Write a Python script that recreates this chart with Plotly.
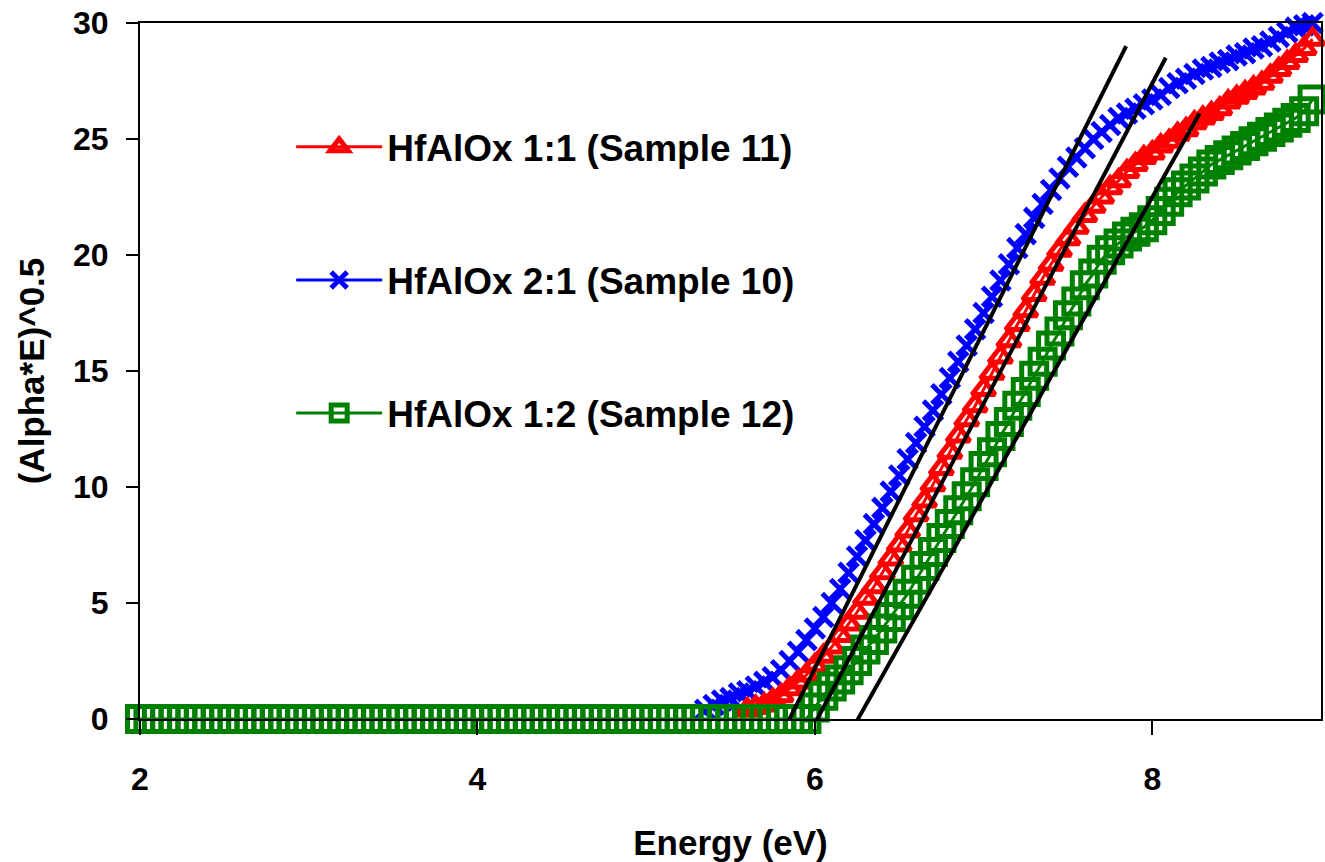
import plotly.graph_objects as go

# ---- data ----
# HfAlOx 1:1 (Sample 11) - red
red_x = [5.60, 5.65, 5.70, 5.75, 5.80, 5.85, 5.90, 5.95, 6.00, 6.05, 6.10, 6.15, 6.20,
         6.25, 6.30, 6.35, 6.40, 6.45, 6.50, 6.55, 6.60, 6.65, 6.70, 6.75, 6.80, 6.85,
         6.90, 6.95, 7.00, 7.05, 7.10, 7.15, 7.20, 7.25, 7.30, 7.35, 7.40, 7.45, 7.50,
         7.55, 7.60, 7.65, 7.70, 7.75, 7.80, 7.85, 7.90, 7.95, 8.00, 8.05, 8.10, 8.15,
         8.20, 8.25, 8.30, 8.35, 8.40, 8.45, 8.50, 8.55, 8.60, 8.65, 8.70, 8.75, 8.80,
         8.85, 8.90, 8.95]
red_y = [0.4, 0.5, 0.6, 0.8, 1.0, 1.3, 1.6, 1.9, 2.3, 2.7, 3.1, 3.6, 4.1,
         4.6, 5.2, 5.7, 6.3, 6.9, 7.5, 8.1, 8.8, 9.4, 10.1, 10.8, 11.5, 12.2,
         12.9, 13.5, 14.2, 14.9, 15.6, 16.3, 17.0, 17.6, 18.3, 19.0, 19.6, 20.2, 20.7,
         21.2, 21.7, 22.1, 22.5, 22.9, 23.2, 23.6, 23.9, 24.2, 24.4, 24.7, 24.9, 25.2,
         25.4, 25.7, 25.9, 26.1, 26.3, 26.6, 26.8, 27.0, 27.2, 27.4, 27.7, 28.0, 28.3,
         28.6, 28.9, 29.3]

# HfAlOx 2:1 (Sample 10) - blue
blue_x = [5.35, 5.40, 5.45, 5.50, 5.55, 5.60, 5.65, 5.70, 5.75, 5.80, 5.85, 5.90, 5.95,
          6.00, 6.05, 6.10, 6.15, 6.20, 6.25, 6.30, 6.35, 6.40, 6.45, 6.50, 6.55, 6.60,
          6.65, 6.70, 6.75, 6.80, 6.85, 6.90, 6.95, 7.00, 7.05, 7.10, 7.15, 7.20, 7.25,
          7.30, 7.35, 7.40, 7.45, 7.50, 7.55, 7.60, 7.65, 7.70, 7.75, 7.80, 7.85, 7.90,
          7.95, 8.00, 8.05, 8.10, 8.15, 8.20, 8.25, 8.30, 8.35, 8.40, 8.45, 8.50, 8.55,
          8.60, 8.65, 8.70, 8.75, 8.80, 8.85, 8.90, 8.95]
blue_y = [0.4, 0.6, 0.8, 0.9, 1.1, 1.2, 1.4, 1.6, 1.8, 2.1, 2.5, 2.9, 3.4,
          3.9, 4.4, 5.0, 5.6, 6.3, 7.0, 7.7, 8.4, 9.1, 9.8, 10.5, 11.2, 11.9,
          12.6, 13.3, 14.0, 14.7, 15.4, 16.1, 16.8, 17.5, 18.2, 18.9, 19.6, 20.3, 20.9,
          21.6, 22.2, 22.8, 23.3, 23.8, 24.2, 24.6, 25.0, 25.3, 25.6, 25.9, 26.1, 26.3,
          26.5, 26.7, 26.9, 27.2, 27.4, 27.6, 27.8, 28.0, 28.1, 28.3, 28.4, 28.6, 28.7,
          28.9, 29.0, 29.2, 29.4, 29.6, 29.8, 29.9, 30.0]

# HfAlOx 1:2 (Sample 12) - green
green_x = [2.00, 2.05, 2.10, 2.15, 2.20, 2.25, 2.30, 2.35, 2.40, 2.45, 2.50, 2.55, 2.60,
           2.65, 2.70, 2.75, 2.80, 2.85, 2.90, 2.95, 3.00, 3.05, 3.10, 3.15, 3.20, 3.25,
           3.30, 3.35, 3.40, 3.45, 3.50, 3.55, 3.60, 3.65, 3.70, 3.75, 3.80, 3.85, 3.90,
           3.95, 4.00, 4.05, 4.10, 4.15, 4.20, 4.25, 4.30, 4.35, 4.40, 4.45, 4.50, 4.55,
           4.60, 4.65, 4.70, 4.75, 4.80, 4.85, 4.90, 4.95, 5.00, 5.05, 5.10, 5.15, 5.20,
           5.25, 5.30, 5.35, 5.40, 5.45, 5.50, 5.55, 5.60, 5.65, 5.70, 5.75, 5.80, 5.85,
           5.90, 5.95, 6.00, 6.05, 6.10, 6.15, 6.20, 6.25, 6.30, 6.35, 6.40, 6.45, 6.50,
           6.55, 6.60, 6.65, 6.70, 6.75, 6.80, 6.85, 6.90, 6.95, 7.00, 7.05, 7.10, 7.15,
           7.20, 7.25, 7.30, 7.35, 7.40, 7.45, 7.50, 7.55, 7.60, 7.65, 7.70, 7.75, 7.80,
           7.85, 7.90, 7.95, 8.00, 8.05, 8.10, 8.15, 8.20, 8.25, 8.30, 8.35, 8.40, 8.45,
           8.50, 8.55, 8.60, 8.65, 8.70, 8.75, 8.80, 8.85, 8.90, 8.95]
green_y = [0, 0, 0, 0, 0, 0, 0, 0, 0, 0, 0, 0, 0,
           0, 0, 0, 0, 0, 0, 0, 0, 0, 0, 0, 0, 0,
           0, 0, 0, 0, 0, 0, 0, 0, 0, 0, 0, 0, 0,
           0, 0, 0, 0, 0, 0, 0, 0, 0, 0, 0, 0, 0,
           0, 0, 0, 0, 0, 0, 0, 0, 0, 0, 0, 0, 0,
           0, 0, 0, 0, 0, 0, 0, 0, 0, 0, 0, 0, 0,
           0, 0, 0.5, 1.0, 1.4, 1.7, 2.1, 2.5, 3.0, 3.4, 3.9, 4.4, 4.9,
           5.4, 6.0, 6.6, 7.2, 7.8, 8.4, 9.0, 9.6, 10.2, 10.9, 11.5, 12.2, 12.8,
           13.5, 14.1, 14.8, 15.4, 16.1, 16.7, 17.4, 18.0, 18.7, 19.2, 19.8, 20.2, 20.5,
           20.8, 21.0, 21.2, 21.5, 21.9, 22.3, 22.7, 23.0, 23.3, 23.6, 23.9, 24.1, 24.3,
           24.5, 24.7, 24.9, 25.1, 25.3, 25.5, 25.7, 25.9, 26.2, 26.7]

# linear fits (black lines): end points
fit1_x = [5.836, 7.845]
fit1_y = [-0.2, 29.0]
fit2_x = [6.000, 8.080]
fit2_y = [-0.2, 28.5]
fit3_x = [6.240, 8.280]
fit3_y = [-0.2, 26.1]

x_ticks = [2, 4, 6, 8]
y_ticks = [0, 5, 10, 15, 20, 25, 30]

names = ["HfAlOx 1:1 (Sample 11)", "HfAlOx 2:1 (Sample 10)", "HfAlOx 1:2 (Sample 12)"]

FONT = "Liberation Sans, Arial, sans-serif"

fig = go.Figure()

fig.add_trace(go.Scatter(
    x=blue_x, y=blue_y, name=names[1], mode="lines+markers", legendrank=2,
    legendgroup="b", cliponaxis=False,
    line=dict(color="#0000FF", width=3),
    marker=dict(symbol="x-thin-open", size=19, color="#0000FF",
                line=dict(color="#0000FF", width=5))))
fig.add_trace(go.Scatter(
    x=red_x, y=red_y, name=names[0], mode="lines+markers", legendrank=1,
    legendgroup="a", cliponaxis=False,
    line=dict(color="#FF0000", width=3),
    marker=dict(symbol="triangle-up-open", size=20, color="#FF0000",
                line=dict(color="#FF0000", width=5))))
fig.add_trace(go.Scatter(
    x=green_x, y=green_y, name=names[2], mode="lines+markers", legendrank=3,
    legendgroup="c", cliponaxis=False,
    line=dict(color="#008000", width=3),
    marker=dict(symbol="square-open", size=25, color="#008000",
                line=dict(color="#008000", width=5))))

for fx, fy in [(fit1_x, fit1_y), (fit2_x, fit2_y), (fit3_x, fit3_y)]:
    fig.add_trace(go.Scatter(x=fx, y=fy, mode="lines", showlegend=False,
                             line=dict(color="black", width=4)))

axis_common = dict(showgrid=False, zeroline=False, showline=True, linecolor="black",
                   linewidth=2, mirror=True, ticks="outside", tickcolor="black",
                   tickwidth=2, tickfont=dict(family=FONT, size=32, color="black", weight="bold"))

fig.update_xaxes(range=[2, 9], tickvals=x_ticks, ticklen=14, ticklabelstandoff=17,
                 title=dict(text="Energy (eV)", standoff=36,
                            font=dict(family=FONT, size=35, color="black", weight="bold")),
                 **axis_common)
fig.update_yaxes(range=[0, 30], tickvals=y_ticks, ticklen=12, ticklabelstandoff=11,
                 title=dict(text="(Alpha*E)^0.5", standoff=18,
                            font=dict(family=FONT, size=35, color="black", weight="bold")),
                 **axis_common)

fig.update_layout(
    width=1325, height=862,
    margin=dict(l=140, r=2, t=23, b=143),
    paper_bgcolor="white", plot_bgcolor="white",
    showlegend=True,
    legend=dict(x=0.128, y=0.866, xanchor="left", yanchor="top",
                bgcolor="rgba(0,0,0,0)", itemwidth=86, tracegroupgap=82,
                font=dict(family=FONT, size=37, color="black", weight="bold")),
)

fig.write_html("out.html")
